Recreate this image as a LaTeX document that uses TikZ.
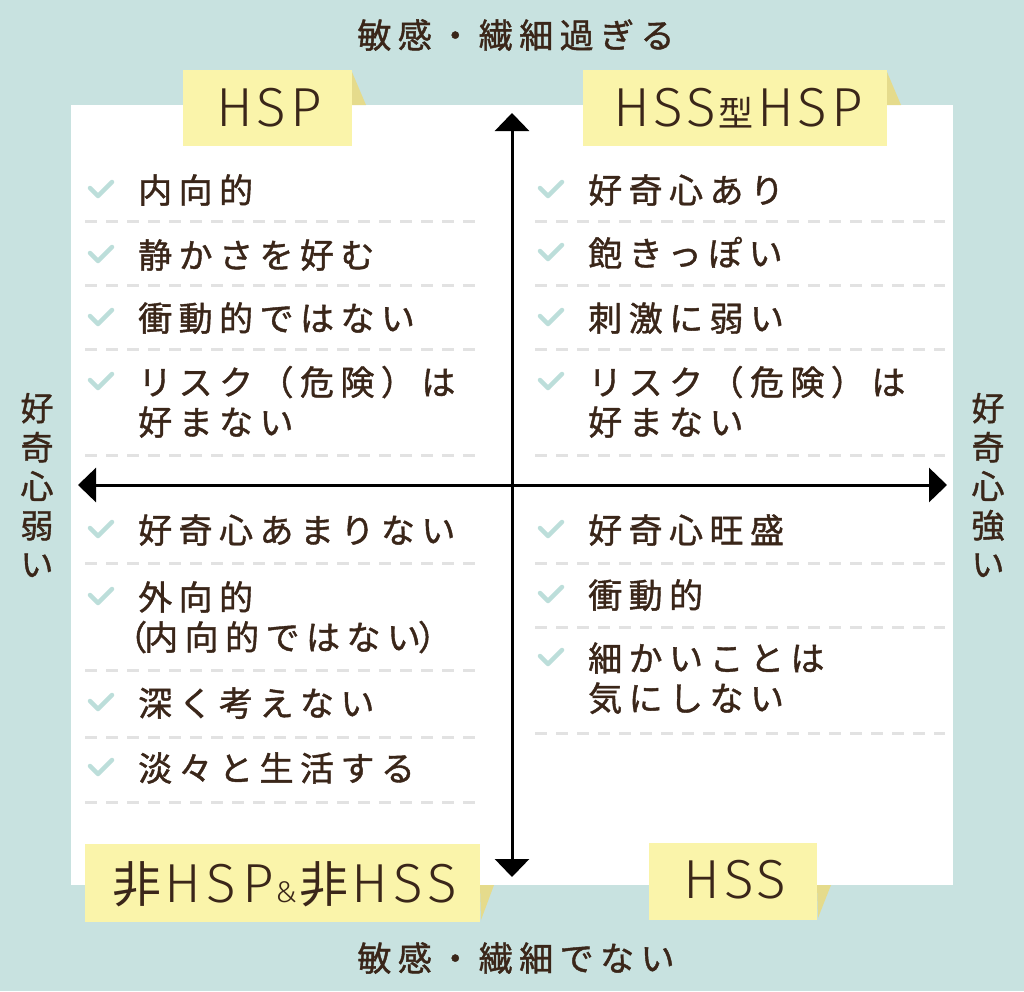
\documentclass[tikz,border=0pt]{standalone}
\usepackage{fontspec}
\setmainfont{Noto Sans CJK JP}
\newfontfamily\jp[LetterSpace=19,FakeBold=1.2]{Noto Sans CJK JP}
\newfontfamily\jps[FakeBold=1.2]{Noto Sans CJK JP}
\newfontfamily\lab[LetterSpace=7]{Fira Sans Light}
\newfontfamily\labw[LetterSpace=10]{Fira Sans Light}
\newfontfamily\labcjk{Noto Sans CJK JP}
\usetikzlibrary{arrows.meta}
\definecolor{bgteal}{HTML}{C8E2E0}
\definecolor{stick}{HTML}{FAF4AA}
\definecolor{fold}{HTML}{E5DB8C}
\definecolor{chk}{HTML}{BCDEDA}
\definecolor{inkc}{HTML}{3A2619}
\definecolor{dashc}{HTML}{E2E2E2}
\tikzset{
  item/.style={anchor=west, inner sep=0pt, text height=30pt, text depth=4pt, text=inkc,
    font={\jp\fontsize{34pt}{40pt}\selectfont}},
  axislab/.style={inner sep=0pt, text height=30pt, text depth=4pt, text=inkc,
    font={\jp\fontsize{34pt}{40pt}\selectfont}},
  sidelab/.style={inner sep=0pt, align=center, text=inkc,
    font={\jps\fontsize{33pt}{39pt}\selectfont}},
  notelab/.style={anchor=base, inner sep=0pt, text=inkc,
    font={\lab\fontsize{55pt}{55pt}\selectfont}},
  sep/.style={draw=dashc, line width=3pt, dash pattern=on 12pt off 9pt},
  chkmark/.style={draw=chk, line width=4.5pt, line cap=round, line join=round},
  axis/.style={draw=black, line width=3pt, {Triangle[length=18pt,width=34pt]}-{Triangle[length=18pt,width=34pt]}}
}
\begin{document}
\begin{tikzpicture}[x=1pt,y=-1pt]
\fill[bgteal] (0,0) rectangle (1024,991);
\useasboundingbox (0,0) rectangle (1024,991);
\fill[white] (71,105) rectangle (953,885);

% sticky notes
\fill[fold] (352,72) -- (366,105) -- (352,105) -- cycle;
\fill[stick] (183,70) rectangle (352,146);
\fill[fold] (887,72) -- (901,105) -- (887,105) -- cycle;
\fill[stick] (583,70) rectangle (887,146);
\fill[fold] (480,885) -- (494,885) -- (481,920) -- cycle;
\fill[stick] (85,844) rectangle (480,922);
\fill[fold] (817,885) -- (831,885) -- (818,918) -- cycle;
\fill[stick] (649,843) rectangle (817,920);

\node[notelab] (nHSP) at (269,126) {HSP};
\node[notelab] (nHSSHSP) at (738,126) {HSS{\labcjk\fontsize{35pt}{35pt}\selectfont\kern2pt 型\kern4pt}HSP};
\node[notelab, font={\labw\fontsize{55pt}{55pt}\selectfont}] (nNon) at (285,902) {{\labcjk\fontsize{49pt}{49pt}\selectfont 非\kern3pt}HSP{\fontsize{30pt}{30pt}\selectfont\kern2pt\&\kern2pt}{\labcjk\fontsize{49pt}{49pt}\selectfont 非\kern3pt}HSS};
\node[notelab] (nHSS) at (735,898) {HSS};

% axis labels
\node[axislab] (top) at (516,35) {敏感・繊細過ぎる};
\node[axislab] (bottom) at (516,958) {敏感・繊細でない};
\node[sidelab] (leftlab) at (37,485) {好\\奇\\心\\弱\\い};
\node[sidelab] (rightlab) at (988,485) {好\\奇\\心\\強\\い};

% separators
\foreach \yy in {221,285,349,455,563,670,737,802}
  \draw[sep] (85,\yy) -- (480,\yy);
\foreach \yy in {221,285,349,455,563,627,733}
  \draw[sep] (535,\yy) -- (945,\yy);

% check marks
\foreach \yy in {190,255,318,382,530,597,703,768}
  \draw[chkmark] (90,{\yy-2}) -- (98,{\yy+6}) -- (112,{\yy-8});
\foreach \yy in {190,253,318,382,530,595,658}
  \draw[chkmark] (540,{\yy-2}) -- (548,{\yy+6}) -- (562,{\yy-8});

% left items
\node[item] (l1) at (138,190) {内向的};
\node[item] (l2) at (138,255) {静かさを好む};
\node[item] (l3) at (138,318) {衝動的ではない};
\node[item] (l4a) at (138,382) {リスク（危険）は};
\node[item] (l4b) at (138,422) {好まない};
\node[item] (l5) at (138,530) {好奇心あまりない};
\node[item] (l6a) at (138,597) {外向的};
\node[item] (l6b) at (113,637) {（\kern-3pt内向的ではない\kern-3pt）};
\node[item] (l7) at (138,703) {深く考えない};
\node[item] (l8) at (138,768) {淡々と生活する};

% right items
\node[item] (r1) at (588,190) {好奇心あり};
\node[item] (r2) at (588,253) {飽きっぽい};
\node[item] (r3) at (588,318) {刺激に弱い};
\node[item] (r4a) at (588,382) {リスク（危険）は};
\node[item] (r4b) at (588,422) {好まない};
\node[item] (r5) at (588,530) {好奇心旺盛};
\node[item] (r6) at (588,595) {衝動的};
\node[item] (r7a) at (588,658) {細かいことは};
\node[item] (r7b) at (588,698) {気にしない};

% axes
\coordinate (aL) at (78,485);
\coordinate (aR) at (947,485);
\coordinate (aT) at (512,113);
\coordinate (aB) at (512,877);
\draw[axis] (aL) -- (aR);
\draw[axis] (aT) -- (aB);
\end{tikzpicture}
\end{document}
